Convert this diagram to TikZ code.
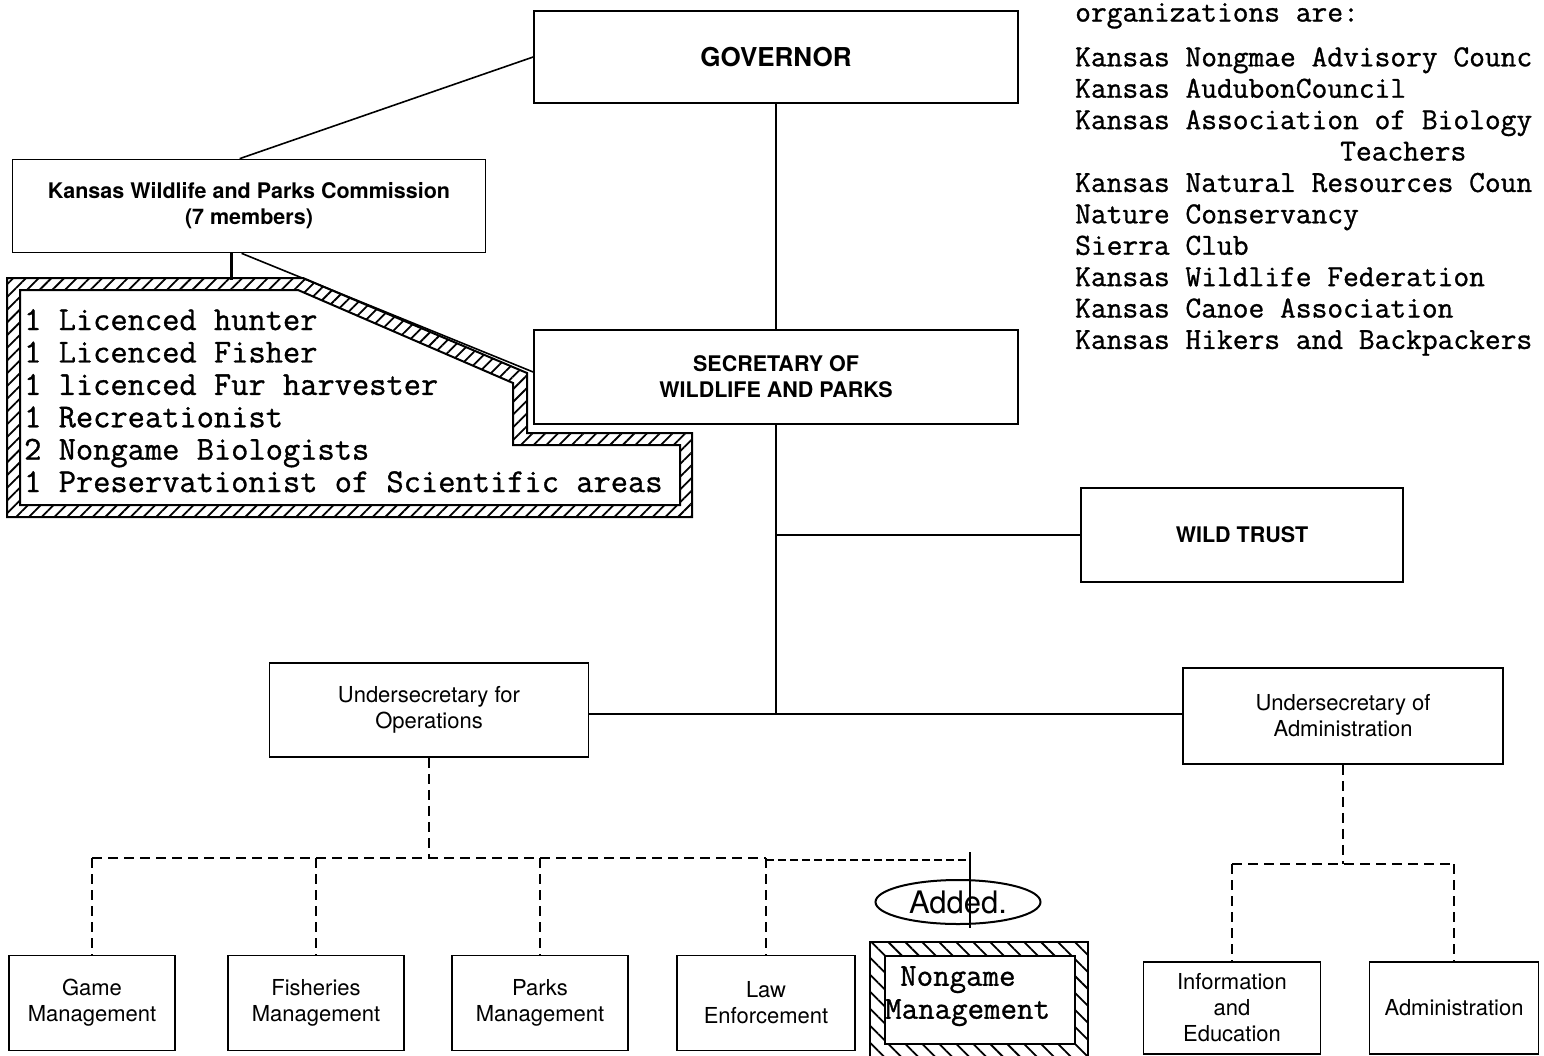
\documentclass[tikz,border=0pt]{standalone}
\usepackage{fontspec}
\setmainfont{TeX Gyre Heros}
\newfontfamily\tw{Latin Modern Mono}[FakeBold=1]
\usetikzlibrary{patterns.meta,calc,shapes.geometric}
\begin{document}
\begin{tikzpicture}[x=1pt,y=-1pt,
  box/.style={draw,line width=1.7pt,rectangle,inner sep=0pt,align=center,font=\fontsize{22}{26}\selectfont},
  boldbox/.style={box,font=\fontsize{21.5}{26}\selectfont\bfseries},
  conn/.style={line width=1.6pt},
  dashconn/.style={line width=1.5pt,dash pattern=on 10pt off 6pt},
  adddash/.style={line width=2.4pt,dash pattern=on 8pt off 4pt},
  hatchedge/.style={line width=2pt},
  listtext/.style={anchor=north west,inner sep=0pt,align=left},
]
\useasboundingbox (0,0) rectangle (1544,1055);

% main boxes
\node[boldbox,minimum width=484pt,minimum height=92pt,font=\fontsize{26}{30}\selectfont\bfseries] (gov) at (776,57) {GOVERNOR};
\node[boldbox,minimum width=484pt,minimum height=94pt] (sec) at (776,377) {SECRETARY OF\\WILDLIFE AND PARKS};
\node[boldbox,minimum width=473pt,minimum height=93pt,font=\fontsize{21.5}{26}\selectfont\bfseries] (comm) at (249,206) {Kansas Wildlife and Parks Commission\\(7 members)};
\node[boldbox,minimum width=322pt,minimum height=94pt] (wild) at (1242,535) {WILD TRUST};
\node[box,minimum width=319pt,minimum height=94pt] (uops) at (429,710) {Undersecretary for\\Operations};
\node[box,minimum width=320pt,minimum height=96pt] (uadm) at (1343,716) {Undersecretary of\\Administration};

% bottom boxes
\node[box,minimum width=166pt,minimum height=95pt] (game) at (92,1003) {Game\\Management};
\node[box,minimum width=176pt,minimum height=95pt] (fish) at (316,1003) {Fisheries\\Management};
\node[box,minimum width=176pt,minimum height=95pt] (parks) at (540,1003) {Parks\\Management};
\node[box,minimum width=178pt,minimum height=95pt] (law) at (766,1003) {Law\\Enforcement};
\node[box,minimum width=177pt,minimum height=92pt] (info) at (1232,1008) {Information\\and\\Education};
\node[box,minimum width=169pt,minimum height=92pt] (admin) at (1454,1008) {Administration};

% solid connectors
\draw[conn] (gov.west) -- ($(comm.north west)+(228,0)$);
\draw[conn] (gov.south) -- (sec.north);
\coordinate (j) at (776,714);
\draw[conn] (sec.south) -- (j);
\draw[conn] (sec.south |- wild.west) -- (wild.west);
\draw[conn] (uops.east |- j) -- (uadm.west |- j);
\draw[conn] ($(comm.south west)+(230,0)$) -- ($(sec.west)+(0,-5)$);
\draw[line width=3pt] ($(comm.south west)+(220,0)$) -- ++(0,27);

% dashed tree left
\coordinate (bl) at (429,858);
\draw[dashconn] (uops.south) -- (bl);
\draw[dashconn] (game.north |- bl) -- (law.north |- bl);
\foreach \n in {game,fish,parks,law} \draw[dashconn] (\n.north |- bl) -- (\n.north);

% added part
\coordinate (ad) at (970,860);
\draw[adddash] (law.north |- ad) -- (ad);
\draw[conn] ($(ad)+(0,-8)$) -- ($(ad)+(0,68)$);
\node[ellipse,draw,line width=2pt,minimum width=165pt,minimum height=44pt,inner sep=0pt,font=\fontsize{31}{32}\selectfont] (added) at (958,902) {Added.};

% dashed tree right
\coordinate (br) at (1346,864);
\draw[dashconn] (uadm.south) -- (uadm.south |- br);
\draw[dashconn] (info.north |- br) -- (admin.north |- br);
\foreach \n in {info,admin} \draw[dashconn] (\n.north |- br) -- (\n.north);

% hatched commission members box
\path[pattern={Lines[angle=45,distance=9pt,line width=1.8pt]},even odd rule]
  (7,278) -- (303,278) -- (527,373) -- (527,433) -- (692,433) -- (692,517) -- (7,517) -- cycle
  (20,290) -- (298,290) -- (513,383) -- (513,445) -- (680,445) -- (680,505) -- (20,505) -- cycle;
\draw[hatchedge] (7,278) -- (303,278) -- (527,373) -- (527,433) -- (692,433) -- (692,517) -- (7,517) -- cycle;
\draw[hatchedge] (20,290) -- (298,290) -- (513,383) -- (513,445) -- (680,445) -- (680,505) -- (20,505) -- cycle;
\node[listtext,font=\tw\fontsize{33.5}{32.4}\selectfont] (members) at (24,309)
  {1 Licenced hunter\\1 Licenced Fisher\\1 licenced Fur harvester\\1 Recreationist\\2 Nongame Biologists\\1 Preservationist of Scientific areas};

% hatched nongame box
\path[pattern={Lines[angle=-45,distance=12pt,line width=1.8pt]},even odd rule]
  (870,942) rectangle (1088,1060) (885,956) rectangle (1075,1044);
\draw[hatchedge] (870,942) rectangle (1088,1060);
\node[draw,hatchedge,minimum width=190pt,minimum height=88pt,inner sep=0pt] (nongame) at (980,1000) {};
\node[listtext,font=\tw\fontsize{32}{33}\selectfont] (ngtext) at (885,966) {\hspace*{15pt}Nongame\\Management};

% organizations list
\node[listtext,font=\tw\fontsize{30.6}{31.4}\selectfont] (orgshead) at (1075,3) {organizations are:};
\node[listtext,font=\tw\fontsize{30.6}{31.4}\selectfont] (orgs) at (1075,47)
  {Kansas Nongmae Advisory Counc\\Kansas AudubonCouncil\\Kansas Association of Biology\\\hspace*{265pt}Teachers\\Kansas Natural Resources Coun\\Nature Conservancy\\Sierra Club\\Kansas Wildlife Federation\\Kansas Canoe Association\\Kansas Hikers and Backpackers};
\end{tikzpicture}
\end{document}
